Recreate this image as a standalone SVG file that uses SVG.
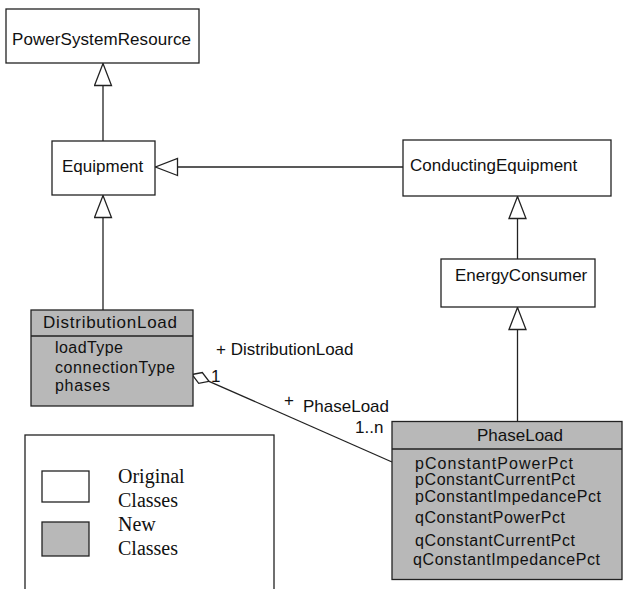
<svg xmlns="http://www.w3.org/2000/svg" width="628" height="589" viewBox="0 0 628 589">
<style>
.box{fill:#fff;stroke:#222;stroke-width:1.3}
.new{fill:#b8b8b8;stroke:#222;stroke-width:1.3}
.ln{fill:none;stroke:#222;stroke-width:1.3}
.t{font-family:"Liberation Sans",Arial,sans-serif;font-size:17px;fill:#111}
.a{font-family:"Liberation Sans",Arial,sans-serif;font-size:16px;fill:#111}
.s{font-family:"Liberation Serif","Times New Roman",serif;font-size:20px;fill:#111}
</style>
<defs>
<marker id="gen" markerUnits="userSpaceOnUse" markerWidth="26" markerHeight="22" refX="23" refY="9.5" orient="auto" viewBox="0 0 26 22">
<path d="M1,1 L23,9.5 L1,18 Z" fill="#fff" stroke="#222" stroke-width="1.3"/>
</marker>
</defs>
<g id="connectors">
<line class="ln" x1="103" y1="141" x2="103" y2="63.5" marker-end="url(#gen)"/>
<line class="ln" x1="403" y1="167" x2="155.5" y2="167" marker-end="url(#gen)"/>
<line class="ln" x1="103" y1="310" x2="103" y2="195.5" marker-end="url(#gen)"/>
<line class="ln" x1="517.5" y1="259" x2="517.5" y2="196.5" marker-end="url(#gen)"/>
<line class="ln" x1="517.5" y1="421.5" x2="517.5" y2="307.5" marker-end="url(#gen)"/>
<line class="ln" x1="209" y1="381.3" x2="392" y2="462"/>
<polygon class="ln" fill="#fff" points="192,374.5 202.3,372.5 209,381.3 198.7,383.3"/>
<text class="t" x="211" y="382">1</text>
<text class="t" x="216" y="355">+ DistributionLoad</text>
<text class="t" x="284" y="406">+</text>
<text class="t" x="303" y="412">PhaseLoad</text>
<text class="t" x="355" y="433">1..n</text>
</g>
<g id="PowerSystemResource">
<rect class="box" x="6" y="9" width="193" height="54"/>
<text class="t" x="12" y="45" textLength="179">PowerSystemResource</text>
</g>
<g id="Equipment">
<rect class="box" x="52" y="141" width="103" height="54"/>
<text class="t" x="62" y="172">Equipment</text>
</g>
<g id="ConductingEquipment">
<rect class="box" x="403" y="140" width="208" height="56"/>
<text class="t" x="410" y="171">ConductingEquipment</text>
</g>
<g id="EnergyConsumer">
<rect class="box" x="441" y="259" width="154" height="48"/>
<text class="t" x="455" y="281">EnergyConsumer</text>
</g>
<g id="DistributionLoad">
<rect class="new" x="31" y="310" width="162" height="96"/>
<line class="ln" x1="31" y1="336" x2="193" y2="336"/>
<text class="t" x="43" y="328" textLength="134">DistributionLoad</text>
<text class="a" x="55" y="353" textLength="68">loadType</text>
<text class="a" x="55" y="373" textLength="120">connectionType</text>
<text class="a" x="55" y="391" textLength="55">phases</text>
</g>
<g id="PhaseLoad">
<rect class="new" x="392" y="421.5" width="230" height="158"/>
<line class="ln" x1="392" y1="449" x2="622" y2="449"/>
<text class="t" x="477" y="441">PhaseLoad</text>
<text class="a" x="415" y="469" textLength="158">pConstantPowerPct</text>
<text class="a" x="415" y="485" textLength="160">pConstantCurrentPct</text>
<text class="a" x="415" y="502" textLength="186">pConstantImpedancePct</text>
<text class="a" x="415" y="523" textLength="150">qConstantPowerPct</text>
<text class="a" x="415" y="546" textLength="160">qConstantCurrentPct</text>
<text class="a" x="413" y="565" textLength="187">qConstantImpedancePct</text>
</g>
<g id="Legend">
<rect class="box" x="25" y="435" width="249" height="170"/>
<rect class="box" x="42" y="471" width="47" height="31"/>
<rect class="new" x="42" y="522" width="47" height="34"/>
<text class="s" x="118" y="483">Original</text>
<text class="s" x="118" y="507">Classes</text>
<text class="s" x="118" y="531">New</text>
<text class="s" x="118" y="555">Classes</text>
</g>
</svg>
